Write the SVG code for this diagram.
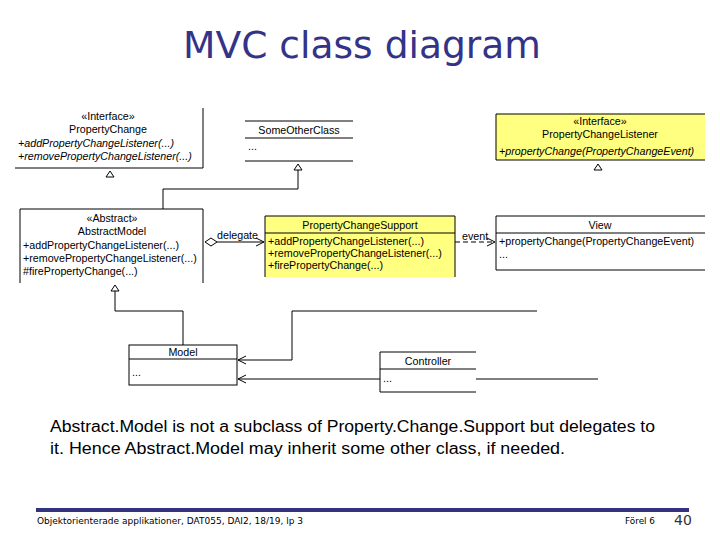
<svg xmlns="http://www.w3.org/2000/svg" width="720" height="540" viewBox="0 0 720 540">
<defs>
<style>
.t{font-family:"Liberation Sans",Arial,sans-serif;font-size:10.7px;fill:#000}
.c{text-anchor:middle}
.i{font-style:italic}
.l{stroke:#000;stroke-width:1;fill:none}
.y{fill:#ffff80}
</style>
<marker id="open" markerWidth="10" markerHeight="10" refX="9" refY="5" orient="auto" markerUnits="userSpaceOnUse"><path d="M1 1 L9 5 L1 9" fill="none" stroke="#000"/></marker>
</defs>
<rect width="720" height="540" fill="#fff"/>
<text x="362" y="58" text-anchor="middle" font-family="DejaVu Sans,sans-serif" font-size="38" fill="#333388" textLength="358" lengthAdjust="spacingAndGlyphs">MVC class diagram</text>

<g id="PropertyChange">
<path class="l" d="M203 108 V168 H15"/>
<text class="t c" x="108" y="120">«Interface»</text>
<text class="t c" x="108" y="133">PropertyChange</text>
<text class="t i" x="18" y="147">+addPropertyChangeListener(...)</text>
<text class="t i" x="18" y="160">+removePropertyChangeListener(...)</text>
</g>
<g id="SomeOtherClass">
<path class="l" d="M245 121 H353 M245 138 H353 M245 161 H353"/>
<text class="t c" x="299" y="134">SomeOtherClass</text>
<text class="t" x="248" y="150">...</text>
</g>
<g id="PropertyChangeListener">
<path class="y" d="M496 114 H705 V160 H496 Z"/>
<path class="l" d="M705 114 H496 V160 H705"/>
<text class="t c" x="600" y="125">«Interface»</text>
<text class="t c" x="600" y="138">PropertyChangeListener</text>
<text class="t i" x="499" y="155">+propertyChange(PropertyChangeEvent)</text>
</g>
<g id="AbstractModel">
<path class="l" d="M20 283 V209 H203 V283"/>
<text class="t c" x="112" y="222">«Abstract»</text>
<text class="t c" x="112" y="235">AbstractModel</text>
<text class="t" x="23" y="249">+addPropertyChangeListener(...)</text>
<text class="t" x="23" y="262">+removePropertyChangeListener(...)</text>
<text class="t" x="23" y="275">#firePropertyChange(...)</text>
</g>
<g id="PropertyChangeSupport">
<rect class="y" x="265" y="216" width="190" height="61"/>
<path class="l" d="M265 277 V216 H455 V277 M265 233 H455"/>
<text class="t c" x="360" y="229">PropertyChangeSupport</text>
<text class="t" x="268" y="245">+addPropertyChangeListener(...)</text>
<text class="t" x="268" y="257">+removePropertyChangeListener(...)</text>
<text class="t" x="268" y="269">+firePropertyChange(...)</text>
</g>
<g id="View">
<path class="l" d="M705 216 H496 V270 H705 M496 233 H705"/>
<text class="t c" x="600" y="229">View</text>
<text class="t" x="499" y="245">+propertyChange(PropertyChangeEvent)</text>
<text class="t" x="499" y="258">...</text>
</g>
<g id="Model">
<rect class="l" x="129" y="345" width="108" height="40"/>
<path class="l" d="M129 359 H237"/>
<text class="t c" x="183" y="356">Model</text>
<text class="t" x="132" y="376">...</text>
</g>
<g id="Controller">
<path class="l" d="M476 352 H380 V392 H476 M380 369 H476"/>
<text class="t c" x="428" y="365">Controller</text>
<text class="t" x="383" y="382">...</text>
</g>

<g id="connectors">
<path class="l" d="M110 171 L106 177 H114 Z"/>
<path class="l" d="M298 164 L294 170 H302 Z"/>
<path class="l" d="M598 164 L594 170 H602 Z"/>
<path class="l" d="M115 285 L111 291 H119 Z"/>
<path class="l" d="M298 170 V189 H163 V209"/>
<path class="l" d="M205 242 L211 238 L217 242 L211 246 Z"/>
<path class="l" d="M217 242 H264" marker-end="url(#open)"/>
<text class="t" x="217" y="239">delegate</text>
<path class="l" d="M455 242 H495" stroke-dasharray="5,3" marker-end="url(#open)"/>
<text class="t" x="462" y="240">event</text>
<path class="l" d="M183 345 V311 H115 V291"/>
<path class="l" d="M537 311 H292 V360 H238" marker-end="url(#open)"/>
<path class="l" d="M380 379 H238" marker-end="url(#open)"/>
<path class="l" d="M476 379 H598"/>
</g>

<text x="50" y="432" font-family="Liberation Sans,Arial,sans-serif" font-size="16" textLength="605" lengthAdjust="spacingAndGlyphs">Abstract.Model is not a subclass of Property.Change.Support but delegates to</text>
<text x="50" y="454" font-family="Liberation Sans,Arial,sans-serif" font-size="16" textLength="515" lengthAdjust="spacingAndGlyphs">it. Hence Abstract.Model may inherit some other class, if needed.</text>
<rect x="36" y="508" width="653" height="4" fill="#333380"/>
<text x="37" y="524" font-family="DejaVu Sans,sans-serif" font-size="9" textLength="266" lengthAdjust="spacingAndGlyphs">Objektorienterade applikationer, DAT055, DAI2, 18/19, lp 3</text>
<text x="625" y="524" font-family="DejaVu Sans,sans-serif" font-size="9" textLength="30" lengthAdjust="spacingAndGlyphs">Förel 6</text>
<text x="674" y="525" font-family="DejaVu Sans,sans-serif" font-size="14" fill="#333">40</text>
</svg>
